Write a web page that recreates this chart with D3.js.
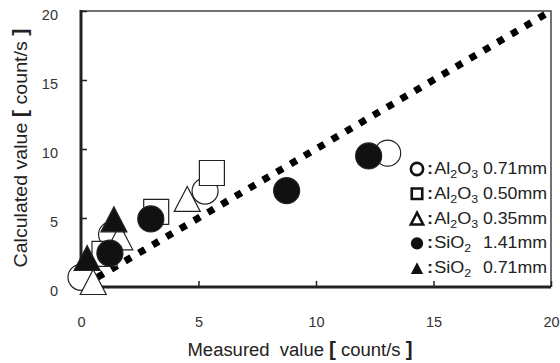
<!DOCTYPE html>
<html>
<head>
<meta charset="utf-8">
<script src="https://cdn.jsdelivr.net/npm/d3@7"></script>
<style>
  body { margin: 0; background: #fff; }
  svg { display: block; font-family: "Liberation Sans", Arial, sans-serif; }
</style>
</head>
<body>
<div id="chart"></div>
<script>
// series values: [measured, calculated]
const al2o3_071 = [[0.0, 0.7], [1.3, 3.8], [5.28, 6.95], [13.05, 9.7]];
const al2o3_050 = [[1.0, 2.4], [3.2, 5.45], [5.57, 8.26]];
const al2o3_035 = [[0.52, 0.36], [1.65, 3.6], [4.52, 6.38]];
const sio2_141 = [[1.23, 2.45], [2.97, 4.93], [8.75, 6.98], [12.24, 9.5]];
const sio2_071 = [[0.26, 2.1], [1.4, 4.9]];
const parityLine = [[0.7, 0.7], [20, 20]];
const tickValues = [0, 5, 10, 15, 20];

const width = 560;
const height = 363;
const margin = {top: 11, right: 9, bottom: 76, left: 81};
const innerWidth = width - margin.left - margin.right;
const innerHeight = height - margin.top - margin.bottom;

const triangle = {
    draw(ctx, size) {
        const w = Math.sqrt(size), h = w * 0.96;
        ctx.moveTo(0, -h / 2);
        ctx.lineTo(w / 2, h / 2);
        ctx.lineTo(-w / 2, h / 2);
        ctx.closePath();
    }
};
const square = {
    draw(ctx, size) {
        const s = Math.sqrt(size);
        ctx.rect(-s / 2, -s / 2, s, s);
    }
};
const circle = {
    draw(ctx, size) {
        const r = Math.sqrt(size) / 2;
        ctx.moveTo(r, 0);
        ctx.arc(0, 0, r, 0, 2 * Math.PI);
    }
};

const series = [
    {data: al2o3_071, type: circle, fill: "#fff", name: "Al", s1: "2", mid: "O", s2: "3", value: "0.71mm"},
    {data: al2o3_050, type: square, fill: "#fff", name: "Al", s1: "2", mid: "O", s2: "3", value: "0.50mm"},
    {data: al2o3_035, type: triangle, fill: "#fff", name: "Al", s1: "2", mid: "O", s2: "3", value: "0.35mm"},
    {data: sio2_141, type: circle, fill: "#111", name: "SiO", s1: "2", mid: "", s2: "", value: "1.41mm"},
    {data: sio2_071, type: triangle, fill: "#111", name: "SiO", s1: "2", mid: "", s2: "", value: "0.71mm"}
];

const svg = d3.select("#chart")
    .append("svg")
    .attr("width", width)
    .attr("height", height);

const graph = svg.append("g")
    .attr("transform", `translate(${margin.left}, ${margin.top})`);

const xScale = d3.scaleLinear().domain([0, 20]).range([0, innerWidth]);
const yScale = d3.scaleLinear().domain([0, 20]).range([innerHeight, 0]);

// frame: thin top/right, heavy left/bottom
graph.append("path")
    .attr("d", `M0,0H${innerWidth}V${innerHeight}`)
    .attr("fill", "none")
    .attr("stroke", "#444")
    .attr("stroke-width", 1.5);

const xAxis = graph.append("g")
    .attr("transform", `translate(0, ${innerHeight})`)
    .call(d3.axisBottom(xScale).tickValues(tickValues).tickSize(-6).tickPadding(30).tickFormat(d3.format("d")));

const yAxis = graph.append("g")
    .call(d3.axisLeft(yScale).tickValues(tickValues).tickSize(-6).tickPadding(23).tickFormat(d3.format("d")));

[xAxis, yAxis].forEach(ax => {
    ax.select(".domain").remove();
    ax.selectAll(".tick line").attr("stroke", "#222").attr("stroke-width", 1.5);
    ax.selectAll(".tick text")
        .attr("fill", "#333")
        .style("font-size", "14.5px");
});
yAxis.selectAll(".tick text").attr("dy", "0.6em");

graph.append("line")
    .attr("x1", 0).attr("x2", 0)
    .attr("y1", -1).attr("y2", innerHeight + 1.5)
    .attr("stroke", "#222").attr("stroke-width", 3);
graph.append("line")
    .attr("x1", 0).attr("x2", innerWidth)
    .attr("y1", innerHeight).attr("y2", innerHeight)
    .attr("stroke", "#222").attr("stroke-width", 3);

// 1:1 line
graph.append("path")
    .datum(parityLine)
    .attr("fill", "none")
    .attr("stroke", "#000")
    .attr("stroke-width", 7)
    .attr("stroke-dasharray", "7,9")
    .attr("d", d3.line().x(d => xScale(d[0])).y(d => yScale(d[1])));

// markers
series.forEach(s => {
    const sym = d3.symbol().type(s.type).size(s.type === square ? 625 : 676);
    graph.append("g")
        .selectAll("path")
        .data(s.data)
        .join("path")
        .attr("transform", d => `translate(${xScale(d[0])}, ${yScale(d[1])})`)
        .attr("d", sym)
        .attr("fill", s.fill)
        .attr("stroke", "#222")
        .attr("stroke-width", 1.2);
});

// legend
const legend = graph.append("g")
    .attr("transform", `translate(${417 - margin.left}, ${169 - margin.top})`);

const rows = legend.selectAll("g")
    .data(series)
    .join("g")
    .attr("transform", (d, i) => `translate(0, ${i * 24.8})`);

rows.append("path")
    .attr("d", d => d3.symbol().type(d.type).size(d.type === square ? 110 : 150)())
    .attr("fill", d => d.fill === "#fff" ? "#fff" : "#111")
    .attr("stroke", "#111")
    .attr("stroke-width", d => d.fill === "#fff" ? 2.6 : 0);

const label = rows.append("text")
    .attr("transform", "translate(10, 5) scale(1.13, 1)")
    .attr("fill", "#222")
    .style("font-size", "16px");
label.append("tspan").style("font-weight", "bold").text(":");
label.append("tspan").attr("dx", 1).text(d => d.name);
label.append("tspan").style("font-size", "11px").attr("dy", 4).text(d => d.s1);
label.append("tspan").attr("dy", -4).text(d => d.mid);
label.append("tspan").style("font-size", "11px").attr("dy", 4).text(d => d.s2);

rows.append("text")
    .attr("transform", `translate(${547 - 417}, 5) scale(1.11, 1)`)
    .attr("text-anchor", "end")
    .attr("fill", "#222")
    .style("font-size", "16px")
    .text(d => d.value);

// axis titles
const xTitle = svg.append("text")
    .attr("x", 300)
    .attr("y", 356)
    .attr("text-anchor", "middle")
    .attr("textLength", 225)
    .attr("lengthAdjust", "spacingAndGlyphs")
    .attr("fill", "#222")
    .style("font-size", "18px");
xTitle.append("tspan").text("Measured\u00a0 value ");
xTitle.append("tspan").style("font-weight", "bold").style("font-size", "20px").text("[");
xTitle.append("tspan").text(" count/s ");
xTitle.append("tspan").style("font-weight", "bold").style("font-size", "20px").text("]");

const yTitle = svg.append("text")
    .attr("transform", "translate(27, 148) rotate(-90)")
    .attr("text-anchor", "middle")
    .attr("textLength", 239)
    .attr("lengthAdjust", "spacingAndGlyphs")
    .attr("fill", "#222")
    .style("font-size", "18px");
yTitle.append("tspan").text("Calculated value ");
yTitle.append("tspan").style("font-weight", "bold").style("font-size", "20px").text("[");
yTitle.append("tspan").text(" count/s ");
yTitle.append("tspan").style("font-weight", "bold").style("font-size", "20px").text("]");
</script>
</body>
</html>
